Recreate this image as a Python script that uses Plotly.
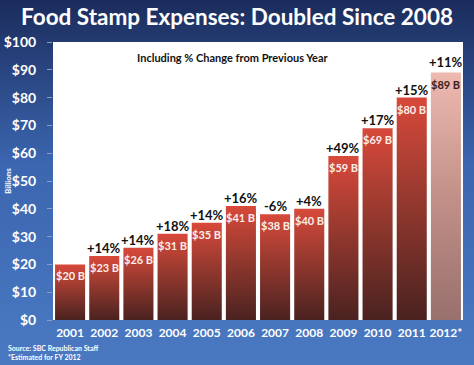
import base64
import plotly.graph_objects as go

# ---------------- data ----------------
years = ["2001", "2002", "2003", "2004", "2005", "2006",
         "2007", "2008", "2009", "2010", "2011", "2012*"]
spending = [20, 23, 26, 31, 35, 41, 38, 40, 59, 69, 80, 89]  # $ billions
pct_change = ["", "+14%", "+14%", "+18%", "+14%", "+16%",
              "-6%", "+4%", "+49%", "+17%", "+15%", "+11%"]
value_labels = [f"${v} B" for v in spending]
y_ticks = [0, 10, 20, 30, 40, 50, 60, 70, 80, 90, 100]
y_ticktext = [f"${t}" for t in y_ticks]
estimated = [False] * 11 + [True]

# ---------------- layout geometry ----------------
W, H = 474, 365
ML, MR, MT, MB = 53, 11, 42, 45
PW, PH = W - ML - MR, H - MT - MB

FONT = "Lato, 'Open Sans', sans-serif"
HALF = 0.44

fig = go.Figure()

# bars drawn as gradient-filled shapes via scatter fills
for i, (v, est) in enumerate(zip(spending, estimated)):
    if est:
        cs = [[0, "#98706c"], [0.5, "#c39089"], [1, "#edb9b0"]]
    else:
        cs = [[0, "#4a2220"], [0.5, "#8f372d"], [1, "#d8493b"]]
    fig.add_trace(go.Scatter(
        x=[i - HALF, i + HALF, i + HALF, i - HALF, i - HALF],
        y=[0, 0, v, v, 0],
        mode="lines", line=dict(width=0),
        fill="toself",
        fillgradient=dict(type="vertical", colorscale=cs, start=0, stop=v),
        hoverinfo="skip", showlegend=False,
    ))

xs = list(range(len(years)))

annotations = []
for i, (v, vl, pc, est) in enumerate(zip(spending, value_labels, pct_change, estimated)):
    annotations.append(dict(
        x=i, y=v, xref="x", yref="y", text=vl, showarrow=False,
        xanchor="center", yanchor="top", yshift=-3,
        font=dict(family=FONT, size=11, weight="bold",
                  color="#3b1d1b" if est else "#fbeee9")))
    if pc:
        annotations.append(dict(
            x=i, y=v, xref="x", yref="y", text=pc, showarrow=False,
            xanchor="center", yanchor="bottom", yshift=-2 if not est else 1,
            font=dict(family=FONT, size=13, weight="bold", color="#111111")))

annotations += [
    dict(text="Including % Change from Previous Year", xref="paper", yref="paper",
         x=(233 - ML) / PW, y=(MT + PH - 57) / PH, xanchor="center", yanchor="middle",
         showarrow=False,
         font=dict(family=FONT, size=11, weight="bold", color="#111111")),
    dict(text="Billions", xref="paper", yref="paper",
         x=(8 - ML) / PW, y=(MT + PH - 181) / PH, xanchor="center", yanchor="middle",
         textangle=-90, showarrow=False,
         font=dict(family=FONT, size=8, weight="bold", color="white")),
    dict(text="Source: SBC Republican Staff", xref="paper", yref="paper",
         x=(6 - ML) / PW, y=(MT + PH - 348) / PH, xanchor="left", yanchor="middle",
         showarrow=False,
         font=dict(family=FONT, size=7, weight="bold", color="white")),
    dict(text="*Estimated for FY 2012", xref="paper", yref="paper",
         x=(6 - ML) / PW, y=(MT + PH - 357) / PH, xanchor="left", yanchor="middle",
         showarrow=False,
         font=dict(family=FONT, size=7, weight="bold", color="white")),
]

# background gradient (svg data uri)
svg = (
    f'<svg xmlns="http://www.w3.org/2000/svg" width="{W}" height="{H}" '
    f'preserveAspectRatio="none">'
    '<defs><linearGradient id="g" x1="0" y1="0" x2="0" y2="1">'
    '<stop offset="0" stop-color="#1b2c5c"/>'
    '<stop offset="0.45" stop-color="#3b66b0"/>'
    '<stop offset="1" stop-color="#4a79c2"/>'
    '</linearGradient></defs>'
    f'<rect x="0" y="0" width="{W}" height="{H}" fill="url(#g)"/></svg>'
)
src = "data:image/svg+xml;base64," + base64.b64encode(svg.encode()).decode()

fig.update_layout(
    width=W, height=H,
    margin=dict(l=ML, r=MR, t=MT, b=MB, autoexpand=False),
    paper_bgcolor="#3560a8",
    plot_bgcolor="rgba(0,0,0,0)",
    images=[dict(
        source=src, xref="paper", yref="paper",
        x=-ML / PW, y=1 + MT / PH, sizex=W / PW, sizey=H / PH,
        xanchor="left", yanchor="top", sizing="stretch", layer="below",
    )],
    shapes=[dict(type="rect", xref="paper", yref="paper", x0=0, x1=1, y0=0, y1=1,
                 fillcolor="white", line=dict(width=0), layer="below")],
    title=dict(text="Food Stamp Expenses: Doubled Since 2008",
               x=0.5, xref="container", xanchor="center",
               y=1 - 17 / H, yref="container", yanchor="middle",
               font=dict(family=FONT, size=22.5, weight="bold", color="white")),
    xaxis=dict(range=[-0.5, len(years) - 0.5], tickvals=xs, ticktext=years,
               showgrid=False, zeroline=False, showline=False, ticks="",
               ticklabelstandoff=4, automargin=False,
               tickfont=dict(family=FONT, size=12, weight="bold", color="white"),
               fixedrange=True),
    yaxis=dict(range=[0, 100], tickvals=y_ticks, ticktext=y_ticktext,
               showgrid=False, zeroline=False, showline=False,
               ticks="outside", ticklen=5, tickcolor="#8c9cc4", tickwidth=1,
               ticklabelstandoff=8, automargin=False,
               tickfont=dict(family=FONT, size=14, weight="bold", color="white"),
               fixedrange=True),
    annotations=annotations,
    showlegend=False,
)

fig.write_html("out.html", config={"displayModeBar": False},
               post_script="document.body.style.margin='0';document.body.style.overflow='hidden';")
